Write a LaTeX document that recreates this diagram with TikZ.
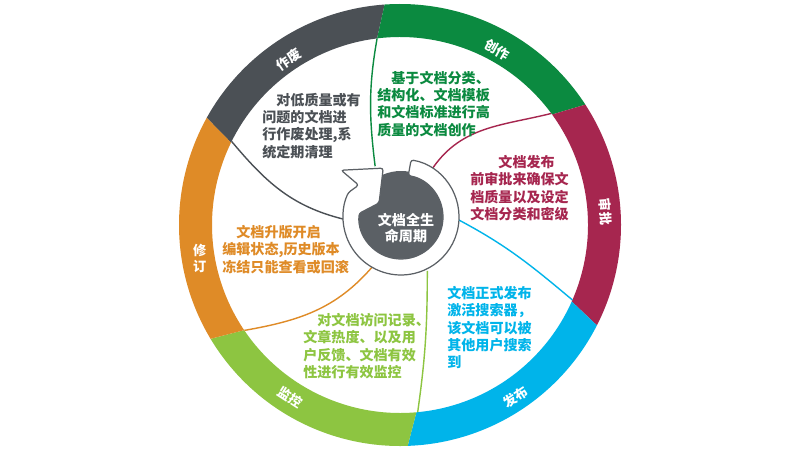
\documentclass[tikz,border=0pt]{standalone}
\usepackage{fontspec}
\setmainfont{Noto Sans CJK SC}
\definecolor{cgray}{HTML}{4B5055}
\definecolor{cgreen}{HTML}{0B8A40}
\definecolor{cred}{HTML}{A6264F}
\definecolor{cblue}{HTML}{00B4EA}
\definecolor{clgreen}{HTML}{8DC541}
\definecolor{corange}{HTML}{DF8B27}
\definecolor{hubgray}{HTML}{5B6065}

\begin{document}
\begin{tikzpicture}[
    desc/.style={anchor=north west, inner sep=0pt, align=left, font=\bfseries\fontsize{8}{9.8}\selectfont},
    ringlabel/.style={text=white, inner sep=0pt, align=center, font=\bfseries\fontsize{7.5}{9.4}\selectfont},
    divider/.style={line width=0.8pt}]
    \fill[white] (0,0) rectangle (16,9);
    \useasboundingbox (0,0) rectangle (16,9);
    \coordinate (C) at (8,4.5);
    \coordinate (H) at (8.02,4.66);
    \begin{scope}[shift={(C)}]
        \foreach \s/\e/\c in {151/94/cgray, 94/33/cgreen, 33/-27/cred, -27/-88/cblue, -88/-149/clgreen, -149/-209/corange}
            \fill[\c] (\s:4.42) arc[start angle=\s, end angle=\e, radius=4.42] -- (\e+3:3.76) arc[start angle=\e+3, end angle=\s+3, radius=3.76] -- cycle;
        \foreach \n/\a in {g/97, r/36.4, b/-23.5, l/-84.6, o/-145.9, k/153.6}
            \coordinate (\n0) at (\a:3.76);
        \node[ringlabel, rotate=34] (zuofei) at (124:3.99) {作废};
        \node[ringlabel, rotate=-29] (chuangzuo) at (61:4.01) {创作};
        \node[ringlabel, rotate=-86] (shenpi) at (3.7:4.12) {审批};
        \node[ringlabel, rotate=34] (fabu) at (-56:4.15) {发布};
        \node[ringlabel, rotate=-33] (jiankong) at (-122.6:4.08) {监控};
        \node[ringlabel] (xiuding) at (189.5:4.06) {修\\订};
    \end{scope}
    \begin{scope}[shift={(H)}]
        \foreach \n/\a/\r in {g/117/1.14, r/57/1.18, b/-3/1.16, l/-64/1.2, o/-120/1.16, k/182/1.16}
            \coordinate (\n1) at (\a:\r);
    \end{scope}
    \draw[divider, cgreen] (g0) to[out=-100, in=97] (g1);
    \draw[divider, cred] (r0) to[out=194, in=55] (r1);
    \draw[divider, cblue] (b0) to[out=140, in=-28] (b1);
    \draw[divider, clgreen] (l0) to[out=82, in=-90] (l1);
    \draw[divider, corange] (o0) to[out=10, in=-131] (o1);
    \draw[divider, cgray] (k0) to[out=-50, in=166] (k1);
    \fill[hubgray] (H) circle (0.92);
    \filldraw[fill=white, draw=hubgray, line width=0.7pt, rounded corners=1.5pt, shift={(H)}]
        (80:1.16) arc[start angle=80, end angle=-205, radius=1.16] -- (143:1.06) -- (142:1.52)
        -- (110:1.04) -- (147.5:0.52) -- (175:0.84) arc[start angle=175, end angle=440, radius=0.84] -- cycle;
    \node[text=white, inner sep=0pt, align=center, font=\bfseries\fontsize{8}{8.8}\selectfont] (hub) at (8.12,4.44) {文档全生\\命周期};
    \node[desc, text=cgray] (tzuofei) at (5.24,7.14) {\hspace*{1em}对低质量或有\\问题的文档进\\行作废处理,系\\统定期清理};
    \node[desc, text=cgreen] (tchuangzuo) at (7.54,7.58) {\hspace*{1em}基于文档分类、\\结构化、文档模板\\和文档标准进行高\\质量的文档创作};
    \node[desc, text=cred] (tshenpi) at (9.40,5.90) {\hspace*{2em}文档发布\\前审批来确保文\\档质量以及设定\\文档分类和密级};
    \node[desc, text=cblue] (tfabu) at (8.94,3.28) {文档正式发布\\激活搜索器，\\该文档可以被\\其他用户搜索\\到};
    \node[desc, text=clgreen] (tjiankong) at (6.06,2.74) {\hspace*{1em}对文档访问记录、\\文章热度、以及用\\户反馈、文档有效\\性进行有效监控};
    \node[desc, text=corange] (txiuding) at (4.44,4.5) {\hspace*{1em}文档升版开启\\编辑状态,历史版本\\冻结只能查看或回滚};
\end{tikzpicture}
\end{document}
